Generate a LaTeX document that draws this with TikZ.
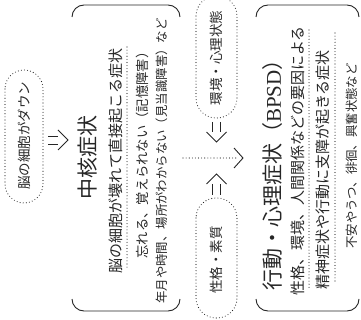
\documentclass[tikz,border=0pt]{standalone}
\usepackage{fontspec}
\setmainfont{Noto Sans CJK JP}
\newfontfamily\latinserif{Liberation Serif}
\begin{document}
\begin{tikzpicture}[x=1pt,y=-1pt,
  ink/.style={draw=black!85, line width=0.9pt},
  dots/.style={draw=black!85, line width=1.1pt, line cap=round, dash pattern=on 0pt off 3.1pt},
  vtext/.style={rotate=90, inner sep=0pt, text=black!85},
  big/.style={vtext, font=\fontsize{21}{21}\selectfont},
  mid/.style={vtext, font=\fontsize{15}{15}\selectfont},
  small/.style={vtext, font=\fontsize{12.4}{12.4}\selectfont},
  pill/.style={vtext, font=\fontsize{13.5}{13.5}\selectfont}]
\useasboundingbox (0,0) rectangle (361,320);
\begin{scope}
\clip (0,0) rectangle (361,320);
% dotted pills
\draw[dots, rounded corners=19] (5,70) rectangle (43,203);
\draw[dots, rounded corners=20] (196,-4) rectangle (237,118);
\draw[dots, rounded corners=20] (196,198) rectangle (237,318);
\end{scope}
\node[pill] (cell) at (24,136) {脳の細胞がダウン};
\node[pill] (env) at (216.5,58) {環境・心理状態};
\node[pill] (pers) at (216.5,260) {性格・素質};
% box 1 brackets
\draw[ink] (72,17) to[out=90,in=180] (84,5) -- (168,5) to[out=0,in=90] (180,17);
\draw[ink] (72,299) to[out=-90,in=180] (84,311) -- (168,311) to[out=0,in=-90] (180,299);
% box 2 brackets
\draw[ink] (256,17) to[out=90,in=180] (268,5) -- (347,5) to[out=0,in=90] (359,17);
\draw[ink] (256,299) to[out=-90,in=180] (268,311) -- (347,311) to[out=0,in=-90] (359,299);
% box 1 texts
\node[big] (core) at (88,158) {中核症状};
\node[mid] (coresub) at (116,161) {脳の細胞が壊れて直接起こる症状};
\coordinate (d1a) at (127,47); \coordinate (d1b) at (127,270);
\draw[dots] (d1a) -- (d1b);
\node[vtext, font=\fontsize{13.3}{13.3}\selectfont] (ex1) at (142,152) {忘れる、覚えられない（記憶障害）};
\node[small] (ex2) at (162,161) {年月や時間、場所がわからない（見当識障害）など};
% box 2 texts
\node[big] (bpsd) at (273,170) {行動・心理症状（{\latinserif BPSD}）};
\node[mid] (bp1) at (298,161) {性格、環境、人間関係などの要因による};
\coordinate (d2a) at (309,30); \coordinate (d2b) at (309,288);
\draw[dots] (d2a) -- (d2b);
\node[mid] (bp2) at (323,170) {精神症状や行動に支障が起きる症状};
\coordinate (d3a) at (335,33); \coordinate (d3b) at (335,284);
\draw[dots] (d3a) -- (d3b);
\node[small] (bp3) at (352,156) {不安やうつ、徘徊、興奮状態など};
% arrow cell -> core
\draw[ink] (48,136) -- (58,136) (48,144) -- (58,144);
\draw[ink] (58,130) -- (68,140) -- (58,150);
% middle dotted line with arrow
\coordinate (m1) at (183,158); \coordinate (m2) at (243,158);
\draw[dots] (m1) -- (236,158);
\draw[ink] (234,148) -- (m2) -- (234,168);
% env down arrow
\draw[ink] (212.5,122) -- (212.5,132) (220.5,122) -- (220.5,132);
\draw[ink] (206.5,132) -- (216.5,142) -- (226.5,132);
% personality up arrow
\draw[ink] (212.5,184) -- (212.5,195) (220.5,184) -- (220.5,195);
\draw[ink] (206.5,184) -- (216.5,174) -- (226.5,184);
\end{tikzpicture}
\end{document}
